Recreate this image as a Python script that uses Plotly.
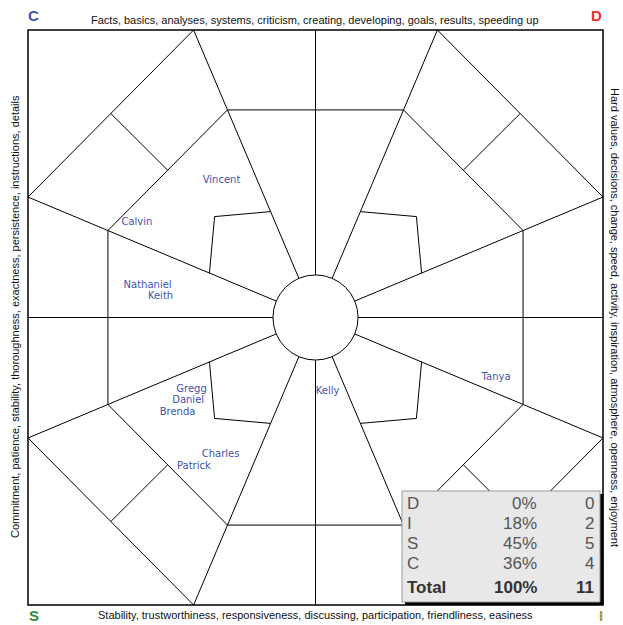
import plotly.graph_objects as go
import numpy as np

# ---------------- data ----------------
disc_types = ["D", "I", "S", "C"]
disc_counts = [0, 2, 5, 4]
disc_percents = ["0%", "18%", "45%", "36%"]
total_label = "Total"
total_percent = "100%"
total_count = 11

names = ["Vincent", "Calvin", "Nathaniel", "Keith", "Gregg", "Daniel",
         "Brenda", "Charles", "Patrick", "Kelly", "Tanya"]
name_x = [-32.7, -62.1, -58.4, -53.9, -43.1, -44.3, -48.0, -33.0, -42.3, 4.2, 62.8]
name_y = [47.5, 32.9, 11.0, 7.3, -25.2, -29.0, -32.9, -47.5, -51.7, -25.9, -21.0]

corner_letters = ["C", "D", "S", "I"]
corner_colors = ["#3f55b5", "#e8342a", "#2e8b3a", "#a89a2a"]

label_top = "Facts, basics, analyses, systems, criticism, creating, developing, goals, results, speeding up"
label_bottom = "Stability, trustworthiness, responsiveness, discussing, participation, friendliness, easiness"
label_left = "Commitment, patience, stability, thoroughness, exactness, persistence, instructions, details"
label_right = "Hard values, decisions, change, speed, activity, inspiration, atmosphere, openness, enjoyment"

# ---------------- geometry ----------------
W, H = 623, 625
CX, CY, S = 315.5, 317.5, 2.875   # pixel centre and px per unit
xr = [(0 - CX) / S, (W - CX) / S]
yr = [(CY - H) / S, CY / S]

a, b = 42.4, 41.9
O = [(-a, 100), (a, 100), (100, b), (100, -b), (a, -100), (-a, -100), (-100, -b), (-100, b)]
k_in = 0.722
I = [(k_in * x, k_in * y) for x, y in O]
R_circle = 14.8
R_kite = 40.0
kite_corner = 35.1

xs, ys = [], []


def seg(p, q):
    xs.extend([p[0], q[0], None])
    ys.extend([p[1], q[1], None])


def poly(pts):
    for p in pts:
        xs.append(p[0]); ys.append(p[1])
    xs.append(None); ys.append(None)


# outer octagon corner edges
for i, j in [(7, 0), (1, 2), (3, 4), (5, 6)]:
    seg(O[i], O[j])
# inner octagon
poly(I + [I[0]])
# radial lines
for p in O:
    seg((0, 0), p)
for p in [(0, 100), (100, 0), (0, -100), (-100, 0)]:
    seg((0, 0), p)
# corner connectors + kites
for (i, j), (sx, sy) in zip([(7, 0), (1, 2), (3, 4), (5, 6)],
                            [(-1, 1), (1, 1), (1, -1), (-1, -1)]):
    mo = ((O[i][0] + O[j][0]) / 2, (O[i][1] + O[j][1]) / 2)
    mi = ((I[i][0] + I[j][0]) / 2, (I[i][1] + I[j][1]) / 2)
    seg(mo, mi)
    pts = []
    for idx in (i, j):
        vx, vy = O[idx]
        n = np.hypot(vx, vy)
        pts.append((R_kite * vx / n, R_kite * vy / n))
    poly([pts[0], (sx * kite_corner, sy * kite_corner), pts[1]])

fig = go.Figure()
fig.add_trace(go.Scatter(x=xs, y=ys, mode="lines",
                         line=dict(color="black", width=1), hoverinfo="skip",
                         showlegend=False))
fig.add_trace(go.Scatter(x=name_x, y=name_y, mode="text", text=names,
                         textfont=dict(family="DejaVu Sans", size=10, color="#3f52ad"),
                         textposition="middle center", hoverinfo="skip",
                         showlegend=False))

shapes = [
    dict(type="rect", xref="x", yref="y", x0=-100, y0=-100, x1=100, y1=100,
         line=dict(color="black", width=1.5), fillcolor="rgba(0,0,0,0)", layer="above"),
    dict(type="circle", xref="x", yref="y", x0=-R_circle, y0=-R_circle, x1=R_circle, y1=R_circle,
         line=dict(color="black", width=1), fillcolor="white", layer="above"),
]


def px(xp):
    return xp / W


def py(yp):
    return 1 - yp / H


# table box
shapes.append(dict(type="rect", xref="paper", yref="paper",
                   x0=px(405), x1=px(603.5), y0=py(605), y1=py(494),
                   line=dict(width=0), fillcolor="black", layer="above"))
shapes.append(dict(type="rect", xref="paper", yref="paper",
                   x0=px(402), x1=px(600), y0=py(602), y1=py(491),
                   line=dict(color="#9a9a9a", width=1), fillcolor="#e8e8e8", layer="above"))

ann = []
font_axis = dict(family="Liberation Sans, Arial", size=11, color="#111")
ann.append(dict(x=px(315), y=py(20), xref="paper", yref="paper", text=label_top,
                showarrow=False, font=font_axis, xanchor="center", yanchor="middle"))
ann.append(dict(x=px(315), y=py(615), xref="paper", yref="paper", text=label_bottom,
                showarrow=False, font=font_axis, xanchor="center", yanchor="middle"))
ann.append(dict(x=px(15), y=py(317), xref="paper", yref="paper", text=label_left,
                showarrow=False, font=font_axis, textangle=-90, xanchor="center", yanchor="middle"))
ann.append(dict(x=px(615), y=py(317), xref="paper", yref="paper", text=label_right,
                showarrow=False, font=font_axis, textangle=90, xanchor="center", yanchor="middle"))

letter_pos = [(33, 16), (596, 16), (34, 615), (601, 615)]
for letter, col, (lx, ly) in zip(corner_letters, corner_colors, letter_pos):
    ann.append(dict(x=px(lx), y=py(ly), xref="paper", yref="paper", text="<b>%s</b>" % letter,
                    showarrow=False, xanchor="center", yanchor="middle",
                    font=dict(family="Liberation Sans, Arial", size=15, color=col)))

row_y = [503, 523, 543, 563]
font_tab = dict(family="Liberation Sans, Arial", size=17, color="#555")
for t, p, c, yy in zip(disc_types, disc_percents, disc_counts, row_y):
    ann.append(dict(x=px(405), y=py(yy), xref="paper", yref="paper", text=t,
                    showarrow=False, xanchor="left", yanchor="middle", font=font_tab))
    ann.append(dict(x=px(539), y=py(yy), xref="paper", yref="paper", text=p,
                    showarrow=False, xanchor="right", yanchor="middle", font=font_tab))
    ann.append(dict(x=px(596), y=py(yy), xref="paper", yref="paper", text=str(c),
                    showarrow=False, xanchor="right", yanchor="middle", font=font_tab))
font_tot = dict(family="Liberation Sans, Arial", size=17, color="#333")
ty = 587
ann.append(dict(x=px(405), y=py(ty), xref="paper", yref="paper", text="<b>%s</b>" % total_label,
                showarrow=False, xanchor="left", yanchor="middle", font=font_tot))
ann.append(dict(x=px(539), y=py(ty), xref="paper", yref="paper", text="<b>%s</b>" % total_percent,
                showarrow=False, xanchor="right", yanchor="middle", font=font_tot))
ann.append(dict(x=px(596), y=py(ty), xref="paper", yref="paper", text="<b>%d</b>" % total_count,
                showarrow=False, xanchor="right", yanchor="middle", font=font_tot))

fig.update_layout(
    width=W, height=H, margin=dict(l=0, r=0, t=0, b=0),
    paper_bgcolor="white", plot_bgcolor="white",
    xaxis=dict(range=xr, visible=False, fixedrange=True),
    yaxis=dict(range=yr, visible=False, fixedrange=True),
    shapes=shapes, annotations=ann, showlegend=False,
)
fig.write_html("out.html", config={"displayModeBar": False},
               post_script="document.body.style.margin='0';document.body.style.overflow='hidden';")
